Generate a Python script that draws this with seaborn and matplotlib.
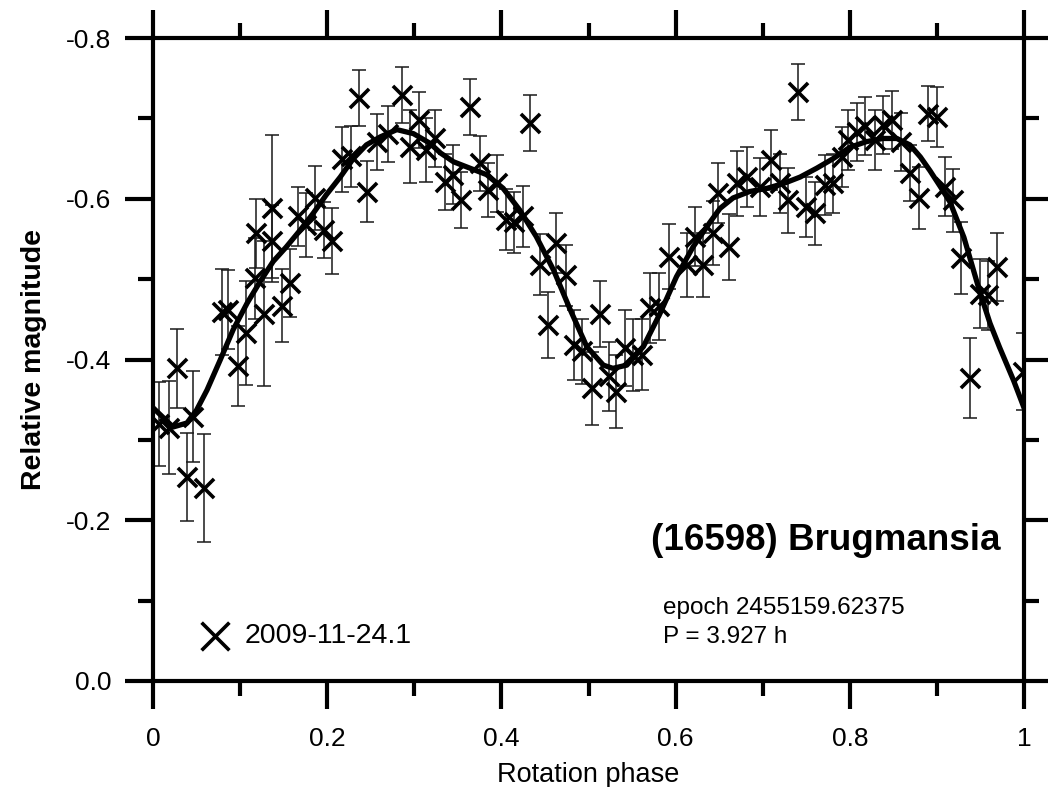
import matplotlib
matplotlib.use("Agg")
import matplotlib.pyplot as plt
import seaborn as sns
import numpy as np
from matplotlib.ticker import FixedLocator, MultipleLocator, FixedFormatter

# ---- data ----
phase = [0.007, 0.018, 0.028, 0.039, 0.046, 0.058, 0.079, 0.086, 0.098, 0.107,
         0.117, 0.118, 0.127, 0.137, 0.137, 0.148, 0.157, 0.166, 0.176, 0.186,
         0.196, 0.206, 0.217, 0.227, 0.236, 0.246, 0.257, 0.270, 0.286, 0.295,
         0.305, 0.314, 0.324, 0.335, 0.345, 0.354, 0.364, 0.375, 0.385, 0.395,
         0.405, 0.415, 0.425, 0.433, 0.444, 0.454, 0.463, 0.474, 0.483, 0.493,
         0.504, 0.513, 0.523, 0.532, 0.542, 0.551, 0.561, 0.571, 0.581, 0.592,
         0.613, 0.622, 0.632, 0.643, 0.649, 0.661, 0.670, 0.682, 0.697, 0.710,
         0.720, 0.729, 0.741, 0.750, 0.760, 0.772, 0.781, 0.791, 0.798, 0.808,
         0.817, 0.829, 0.838, 0.848, 0.859, 0.869, 0.879, 0.890, 0.900, 0.909,
         0.919, 0.928, 0.938, 0.949, 0.959, 0.969, 0.999]
mag = [-0.320, -0.315, -0.389, -0.254, -0.329, -0.240, -0.459, -0.462, -0.392, -0.433,
       -0.501, -0.557, -0.457, -0.588, -0.547, -0.467, -0.495, -0.578, -0.567, -0.601,
       -0.561, -0.547, -0.649, -0.653, -0.725, -0.609, -0.671, -0.681, -0.729, -0.665,
       -0.698, -0.661, -0.675, -0.621, -0.630, -0.598, -0.714, -0.644, -0.611, -0.619,
       -0.574, -0.571, -0.578, -0.694, -0.518, -0.443, -0.545, -0.505, -0.418, -0.410,
       -0.364, -0.457, -0.379, -0.360, -0.414, -0.406, -0.406, -0.464, -0.466, -0.528,
       -0.518, -0.553, -0.518, -0.557, -0.607, -0.540, -0.619, -0.627, -0.615, -0.648,
       -0.619, -0.598, -0.733, -0.590, -0.582, -0.617, -0.619, -0.652, -0.673, -0.683,
       -0.690, -0.673, -0.692, -0.698, -0.671, -0.632, -0.601, -0.706, -0.702, -0.615,
       -0.598, -0.526, -0.377, -0.482, -0.480, -0.515, -0.385]
err = [0.052, 0.058, 0.049, 0.055, 0.057, 0.067, 0.053, 0.049, 0.050, 0.065,
       0.050, 0.043, 0.090, 0.091, 0.045, 0.045, 0.042, 0.037, 0.040, 0.040,
       0.035, 0.041, 0.040, 0.038, 0.035, 0.038, 0.035, 0.035, 0.035, 0.045,
       0.035, 0.040, 0.036, 0.035, 0.037, 0.035, 0.035, 0.034, 0.034, 0.035,
       0.038, 0.038, 0.038, 0.035, 0.038, 0.041, 0.037, 0.038, 0.044, 0.040,
       0.045, 0.041, 0.043, 0.045, 0.047, 0.045, 0.044, 0.043, 0.042, 0.040,
       0.040, 0.037, 0.040, 0.040, 0.037, 0.041, 0.040, 0.037, 0.036, 0.037,
       0.037, 0.040, 0.035, 0.037, 0.039, 0.037, 0.037, 0.037, 0.037, 0.036,
       0.036, 0.037, 0.036, 0.036, 0.036, 0.035, 0.039, 0.034, 0.037, 0.037,
       0.039, 0.045, 0.050, 0.043, 0.043, 0.042, 0.048]

fit_phase = [0.000, 0.023, 0.039, 0.050, 0.062, 0.077, 0.092, 0.108, 0.123, 0.138,
             0.153, 0.169, 0.184, 0.199, 0.215, 0.230, 0.245, 0.261, 0.280, 0.299,
             0.318, 0.330, 0.345, 0.364, 0.383, 0.402, 0.421, 0.440, 0.460, 0.479,
             0.498, 0.517, 0.528, 0.544, 0.563, 0.582, 0.601, 0.620, 0.639, 0.651,
             0.666, 0.685, 0.705, 0.724, 0.743, 0.762, 0.781, 0.800, 0.819, 0.838,
             0.854, 0.869, 0.881, 0.892, 0.904, 0.915, 0.923, 0.931, 0.938, 0.949,
             0.961, 0.972, 0.988, 1.000]
fit_mag = [-0.340, -0.316, -0.321, -0.337, -0.362, -0.399, -0.437, -0.470, -0.497, -0.522,
           -0.540, -0.561, -0.582, -0.605, -0.627, -0.650, -0.667, -0.677, -0.686, -0.681,
           -0.669, -0.657, -0.646, -0.638, -0.630, -0.613, -0.586, -0.553, -0.511, -0.462,
           -0.416, -0.393, -0.389, -0.393, -0.416, -0.457, -0.503, -0.540, -0.570, -0.588,
           -0.601, -0.609, -0.613, -0.619, -0.627, -0.638, -0.650, -0.664, -0.671, -0.675,
           -0.675, -0.667, -0.652, -0.635, -0.615, -0.596, -0.574, -0.552, -0.526, -0.485,
           -0.445, -0.415, -0.374, -0.340]

x_ticks = [0, 0.2, 0.4, 0.6, 0.8, 1.0]
x_tick_labels = ["0", "0.2", "0.4", "0.6", "0.8", "1"]
y_ticks = [0.0, -0.2, -0.4, -0.6, -0.8]
y_tick_labels = ["0.0", "-0.2", "-0.4", "-0.6", "-0.8"]
legend_label = "2009-11-24.1"
title_text = "(16598) Brugmansia"
epoch_text = "epoch 2455159.62375"
period_text = "P = 3.927 h"

# ---- style ----
sns.set_theme(style="white")
plt.rcParams["font.family"] = ["Liberation Sans", "DejaVu Sans"]
plt.rcParams["axes.unicode_minus"] = False
for key in ["text.color", "axes.labelcolor", "xtick.color", "ytick.color"]:
    plt.rcParams[key] = "black"

fig = plt.figure(figsize=(10.48, 7.87), dpi=100)
ax = fig.add_axes([153/1048, 1 - 681/787, 871/1048, 643/787])

ax.errorbar(phase, mag, yerr=err, fmt="none", ecolor="#1a1a1a",
            elinewidth=1.1, capsize=5, capthick=1.1, zorder=2)
sns.scatterplot(x=phase, y=mag, marker="x", s=190, color="black",
                linewidth=2.6, label=legend_label, ax=ax, zorder=3)
sns.lineplot(x=fit_phase, y=fit_mag, sort=False, estimator=None,
             color="black", linewidth=3.8, ax=ax, zorder=4)

ax.set_xlim(0, 1)
ax.set_ylim(0, -0.8)

ax.xaxis.set_major_locator(FixedLocator(x_ticks))
ax.xaxis.set_major_formatter(FixedFormatter(x_tick_labels))
ax.xaxis.set_minor_locator(MultipleLocator(0.1))
ax.yaxis.set_major_locator(FixedLocator(y_ticks))
ax.yaxis.set_major_formatter(FixedFormatter(y_tick_labels))
ax.yaxis.set_minor_locator(MultipleLocator(0.1))

ax.tick_params(which="both", direction="out", top=True, right=True,
               bottom=True, left=True, color="black", width=3)
ax.tick_params(which="major", length=20)
ax.tick_params(which="minor", length=11)
ax.tick_params(axis="x", which="major", labelsize=19, pad=13, labelcolor="black")
ax.tick_params(axis="y", which="major", labelsize=19, pad=10, labelcolor="black")

for sp in ax.spines.values():
    sp.set_visible(True)
    sp.set_color("black")
    sp.set_linewidth(3)

ax.set_xlabel("Rotation phase", fontsize=19.5, labelpad=8, color="black")
ax.set_ylabel("Relative magnitude", fontsize=20.5, fontweight="bold",
              labelpad=14, color="black")

ax.text(0.9725, 0.218, title_text, transform=ax.transAxes, ha="right",
        va="center", fontsize=26.5, fontweight="bold", color="black")
ax.text(0.5855, 0.1135, epoch_text, transform=ax.transAxes, ha="left",
        va="center", fontsize=17.5, color="black")
ax.text(0.5855, 0.068, period_text, transform=ax.transAxes, ha="left",
        va="center", fontsize=17.5, color="black")

leg = ax.legend(loc="center left", bbox_to_anchor=(0.03, 0.07), frameon=False,
                fontsize=20.5, markerscale=1.45, handletextpad=0.3,
                borderpad=0, handlelength=1.5)
for t in leg.get_texts():
    t.set_color("black")

fig.savefig("out.png", dpi=100, facecolor="white")
